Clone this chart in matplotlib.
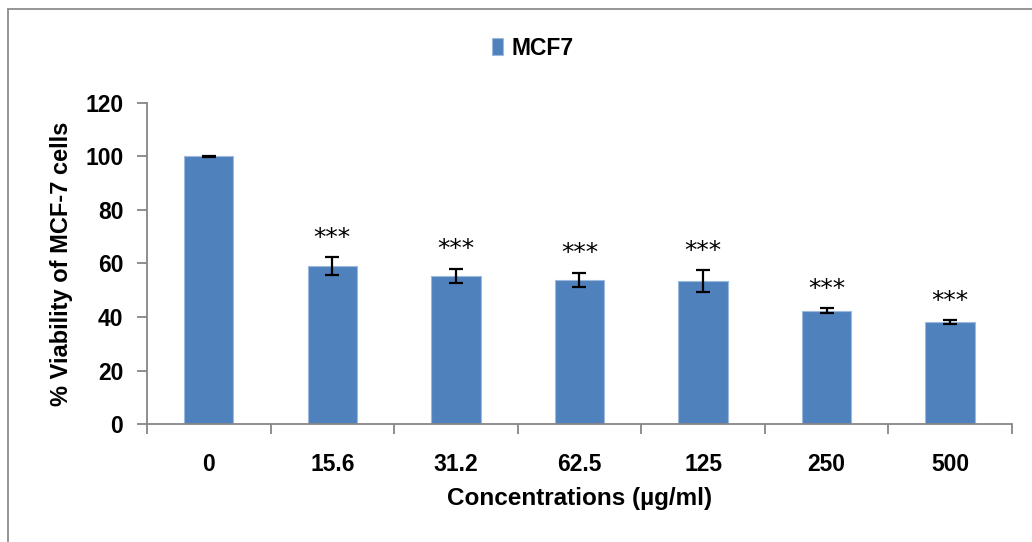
import matplotlib.pyplot as plt
from matplotlib.patches import Rectangle
from matplotlib.ticker import FixedLocator

# data
concentrations = ['0', '15.6', '31.2', '62.5', '125', '250', '500']
viability = [100.0, 59.1, 55.4, 54.0, 53.4, 42.4, 38.1]
sd = [0.2, 3.3, 2.7, 2.6, 4.0, 0.9, 0.7]
signif = ['', '***', '***', '***', '***', '***', '***']

plt.rcParams['font.family'] = ['Liberation Sans', 'DejaVu Sans']

fig = plt.figure(figsize=(10.32, 5.42), dpi=100)
ax = fig.add_axes([0.1424, 0.2177, 0.9806 - 0.1424, 0.810 - 0.2177])

axis_grey = '#868686'
x = range(len(concentrations))
ax.bar(x, viability, width=0.4, color='#4F81BD', edgecolor='#9DB9DD', linewidth=0.8,
       label='MCF7', zorder=2)
ax.errorbar(x, viability, yerr=sd, fmt='none', ecolor='black', elinewidth=1.6,
            capsize=5, capthick=1.6, zorder=3)

for i, s in enumerate(signif):
    if s:
        ax.text(i, viability[i] + sd[i] + 7.3, s, ha='center', va='center',
                fontsize=18, family='DejaVu Sans')

ax.set_xlim(-0.5, len(concentrations) - 0.5)
ax.set_ylim(0, 120)
ax.set_yticks(range(0, 121, 20))
ax.set_xticks(list(x))
ax.set_xticklabels(concentrations, fontsize=16.5, fontweight='bold')
ax.xaxis.set_minor_locator(FixedLocator([i - 0.5 for i in range(len(concentrations) + 1)]))
ax.tick_params(axis='x', which='major', length=0, pad=21)
ax.tick_params(axis='x', which='minor', length=7, color=axis_grey, width=1.3)
ax.tick_params(axis='y', length=7, color=axis_grey, width=1.3, pad=10, labelsize=16.5)
for lab in ax.get_yticklabels():
    lab.set_fontweight('bold')

for sp in ['top', 'right']:
    ax.spines[sp].set_visible(False)
for sp in ['left', 'bottom']:
    ax.spines[sp].set_color(axis_grey)
    ax.spines[sp].set_linewidth(1.3)

ax.set_xlabel('Concentrations (µg/ml)', fontsize=17.5, fontweight='bold', labelpad=8)
ax.set_ylabel('% Viability of MCF-7 cells', fontsize=17, fontweight='bold', labelpad=9)

leg = ax.legend(loc='center', bbox_to_anchor=(0.446, 1.171), frameon=False,
                handlelength=0.5, handleheight=0.8, handletextpad=0.35,
                prop={'weight': 'bold', 'size': 16.5})

# outer chart frame (right and bottom edges fall off the canvas)
fig.add_artist(Rectangle((8 / 1032, -0.2), 1.2, 1.2 - 9 / 542, transform=fig.transFigure,
                         fill=False, edgecolor='#8c8c8c', linewidth=1.3))

fig.savefig('out.png', dpi=100)
